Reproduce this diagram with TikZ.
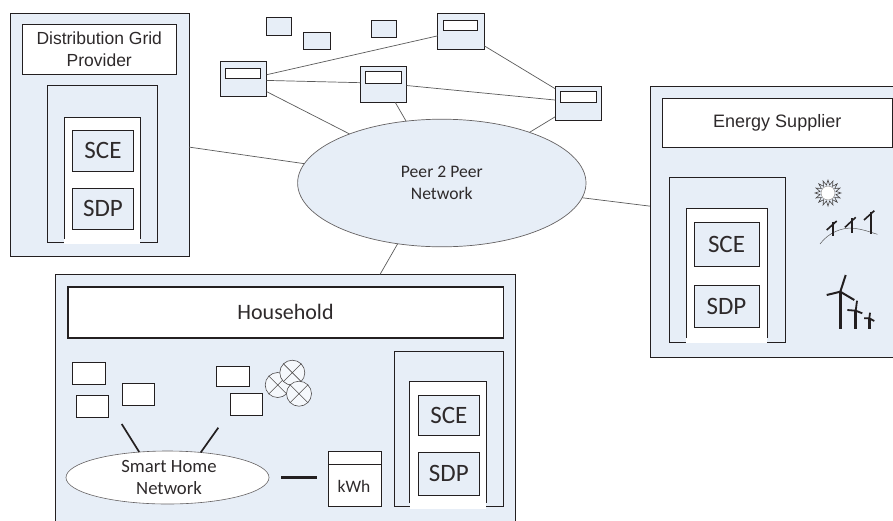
\documentclass[tikz,border=0pt]{standalone}
\usepackage{fontspec}
\usetikzlibrary{shapes.geometric}
\newfontfamily\calibrifont{Carlito}
\newfontfamily\arialfont{Liberation Sans}
\definecolor{panelblue}{HTML}{E7EEF7}
\definecolor{ink}{HTML}{231F20}
\definecolor{wire}{HTML}{5A5A5A}
\tikzset{
	panel/.style={draw=ink, line width=0.9pt, fill=panelblue, inner sep=0, outer sep=0},
	plate/.style={draw=ink, line width=0.9pt, fill=white, inner sep=0, outer sep=0, align=center, text=ink!95},
	frame/.style={draw=ink, line width=0.9pt},
	wire/.style={draw=wire, line width=0.7pt},
	heavy/.style={draw=ink, line width=1.8pt},
	blade/.style={draw=ink, line width=1.6pt},
	arial/.style={font=\arialfont\fontsize{17.5}{22}\selectfont},
	stacktext/.style={font=\calibrifont\fontsize{25}{26}\selectfont, text=ink!95},
}
\begin{document}
\begin{tikzpicture}[x=1pt,y=-1pt]
	\clip[use as bounding box] (0,0) rectangle (893,520);

	% Distribution grid provider
	\node[panel, minimum width=179, minimum height=243] (grid) at (99.5,134.5) {};
	\node[plate, arial, minimum width=153.5, minimum height=50] (gridtitle) at (99.25,49) {Distribution Grid\\Provider};
	\draw[frame] (47.5,85) rectangle (157,242);
	\fill[white] (64,117) rectangle (140,244);
	\draw[frame] (64,239) -- (64,117) -- (140,117) -- (140,239);
	\node[panel, stacktext, minimum width=61, minimum height=41] (gridsce) at (103,150.5) {SCE};
	\node[panel, stacktext, minimum width=61, minimum height=41] (gridsdp) at (103,208.5) {SDP};

	% Energy supplier
	\node[panel, minimum width=250, minimum height=271] (supplier) at (775,221.5) {};
	\node[plate, arial, font=\arialfont\fontsize{18}{22}\selectfont, minimum width=230.5, minimum height=49] (suppliertitle) at (777.25,122.5) {Energy Supplier};
	\draw[frame] (669,177) rectangle (785,342);
	\fill[white] (686,208) rectangle (767,343);
	\draw[frame] (686,338) -- (686,208) -- (767,208) -- (767,338);
	\node[panel, stacktext, minimum width=65, minimum height=44] (suppliersce) at (726.5,244) {SCE};
	\node[panel, stacktext, minimum width=65, minimum height=42] (suppliersdp) at (726.5,306) {SDP};

	% Sun
	\node[star, star points=16, star point ratio=1.6, minimum size=26, inner sep=0, draw=ink!85, line width=0.6pt, fill=panelblue] (sun) at (828,193) {};
	\fill[white, draw=ink!60, line width=0.4pt] (sun.center) circle (7);

	% Solar panels on the hill
	\draw[wire, line width=0.5pt] (820,244) .. controls (828,233) and (842,227) .. (853.3,228.3) .. controls (862,229) and (870,232) .. (877.3,234.3);
	\foreach \px/\ptop/\pbot/\sxa/\sya/\sxb/\syb in {832.7/221.7/235.7/826.7/230/836.7/221, 851.7/218.3/232.7/845/227.3/855.7/217.3, 871/211.7/234.3/864/220/874.3/210.7}{
		\draw[heavy] (\px,\ptop) -- (\px,\pbot);
		\draw[blade] (\sxa,\sya) -- (\sxb,\syb);
	}

	% Wind turbines
	\draw[ink, line width=2.8pt] (840.3,291.7) -- (840.3,328.7);
	\draw[ink, line width=2pt] (845.7,275) -- (840.3,291.7) (826.7,295) -- (840.3,291.7) -- (854.3,300);
	\draw[ink, line width=2.6pt] (855.7,310.7) -- (855.7,328.7);
	\draw[ink, line width=1.8pt] (857,300.7) -- (855.7,310.7) (847.3,310) -- (855.7,310.7) -- (862.3,313.3);
	\draw[ink, line width=2.6pt] (869.3,318.3) -- (869.3,328.7);
	\draw[ink, line width=1.8pt] (870,312.7) -- (869.3,318.3) (864,318.3) -- (869.3,318.3) -- (874.3,321);

	% Household
	\node[panel, minimum width=459.3, minimum height=251] (house) at (285.4,400) {};
	\node[plate, font=\calibrifont\fontsize{22}{24}\selectfont, line width=1.8pt, minimum width=435.8, minimum height=51] (housetitle) at (285.5,312.2) {Household};
	\draw[frame] (394.3,351.7) rectangle (503.3,506.3);
	\fill[white] (409.7,381.3) rectangle (486.3,508.7);
	\draw[frame] (409.7,503) -- (409.7,381.3) -- (486.3,381.3) -- (486.3,503);
	\node[panel, stacktext, minimum width=61, minimum height=40] (housesce) at (448.8,415.3) {SCE};
	\node[panel, stacktext, minimum width=61, minimum height=43] (housesdp) at (448.8,473.8) {SDP};

	% Devices in the home
	\foreach \name/\x/\y/\w/\h in {deva/89/373.3/33.4/22, devb/92.5/406.3/32.4/22, devc/138.3/394.3/32/22, devd/233/376.3/33.4/20, deve/246.5/404.3/32.4/22}{
		\node[plate, minimum width=\w, minimum height=\h] (\name) at (\x,\y) {};
	}
	\foreach \name/\x/\y in {lampa/277.7/385, lampb/292.3/372.7, lampc/299/393.7}{
		\node[circle, draw=ink!80, line width=0.6pt, fill=panelblue!40!white, minimum size=25, inner sep=0] (\name) at (\x,\y) {};
		\draw[ink!80, line width=0.6pt] (\name.45) -- (\name.225) (\name.135) -- (\name.315);
	}

	% Smart home network and meter
	\node[ellipse, draw=ink!70, line width=0.6pt, fill=white, minimum width=203, minimum height=53, inner sep=0, outer sep=0, align=center, text=ink!95, font=\calibrifont\fontsize{18.7}{22}\selectfont] (home) at (167.5,477.5) {\hspace*{3pt}Smart Home\\\hspace*{3pt}Network};
	\node[plate, minimum width=53, minimum height=55] (meter) at (354.8,478.8) {};
	\draw[frame] (meter.west |- 0,464.3) -- (meter.east |- 0,464.3);
	\node[text=ink!95, font=\calibrifont\fontsize{17.5}{20}\selectfont] (kwh) at (354,486.7) {kWh};
	\coordinate (linka) at (121.7,424);
	\coordinate (linkb) at (218.3,427.7);
	\draw[ink, line width=1.7pt] (linka) -- (home.138);
	\draw[ink, line width=1.7pt] (linkb) -- (home.37);
	\draw[ink, line width=2.4pt, shorten <=12, shorten >=11.3] (home.east) -- (home.east -| meter.west);

	% Peer network
	\node[ellipse, draw=ink!70, line width=0.7pt, fill=panelblue, minimum width=288.4, minimum height=127.6, inner sep=0, outer sep=0, align=center, text=ink!95, font=\calibrifont\fontsize{17.6}{22}\selectfont] (net) at (441.8,183) {Peer 2 Peer\\Network};

	\foreach \name/\x/\y/\w/\h in {tinya/279/26.3/25.4/18, tinyb/317/40.8/27.4/17, tinyc/384/28.8/25.4/17}{
		\node[panel, minimum width=\w, minimum height=\h] (\name) at (\x,\y) {};
	}
	\foreach \name/\x/\y/\h/\sx/\sy/\sw/\sh in {peera/243.5/78.8/35/243/73.3/35.4/10, peerb/383.5/84.3/36/383.5/77.3/36.4/12, peerc/461/31.3/36/460.5/25.3/34.4/10, peerd/578.5/103.3/34/578.5/97/36.4/11.4}{
		\node[panel, minimum width=46.4, minimum height=\h] (\name) at (\x,\y) {};
		\node[plate, minimum width=\sw, minimum height=\sh] (\name slot) at (\sx,\sy) {};
	}

	% Links
	\draw[wire] (peera.10) -- (peerc.191);
	\draw[wire] (peera.-4) -- (peerb.176);
	\draw[wire] (peera.-29) -- (net.152);
	\draw[wire] (peerb.-3.5) -- (peerd.172.6);
	\draw[wire] (peerc.-32) -- (peerd.148);
	\draw[wire] (peerb.-57) -- (net.120.6);
	\draw[wire] (peerd.210.6) -- (net.30);
	\draw[wire] (grid.-8.6) -- (net.172);
	\draw[wire] (supplier.173.8) -- (net.-6.6);
	\draw[wire] (house.53.9) -- (net.234.6);
\end{tikzpicture}
\end{document}
